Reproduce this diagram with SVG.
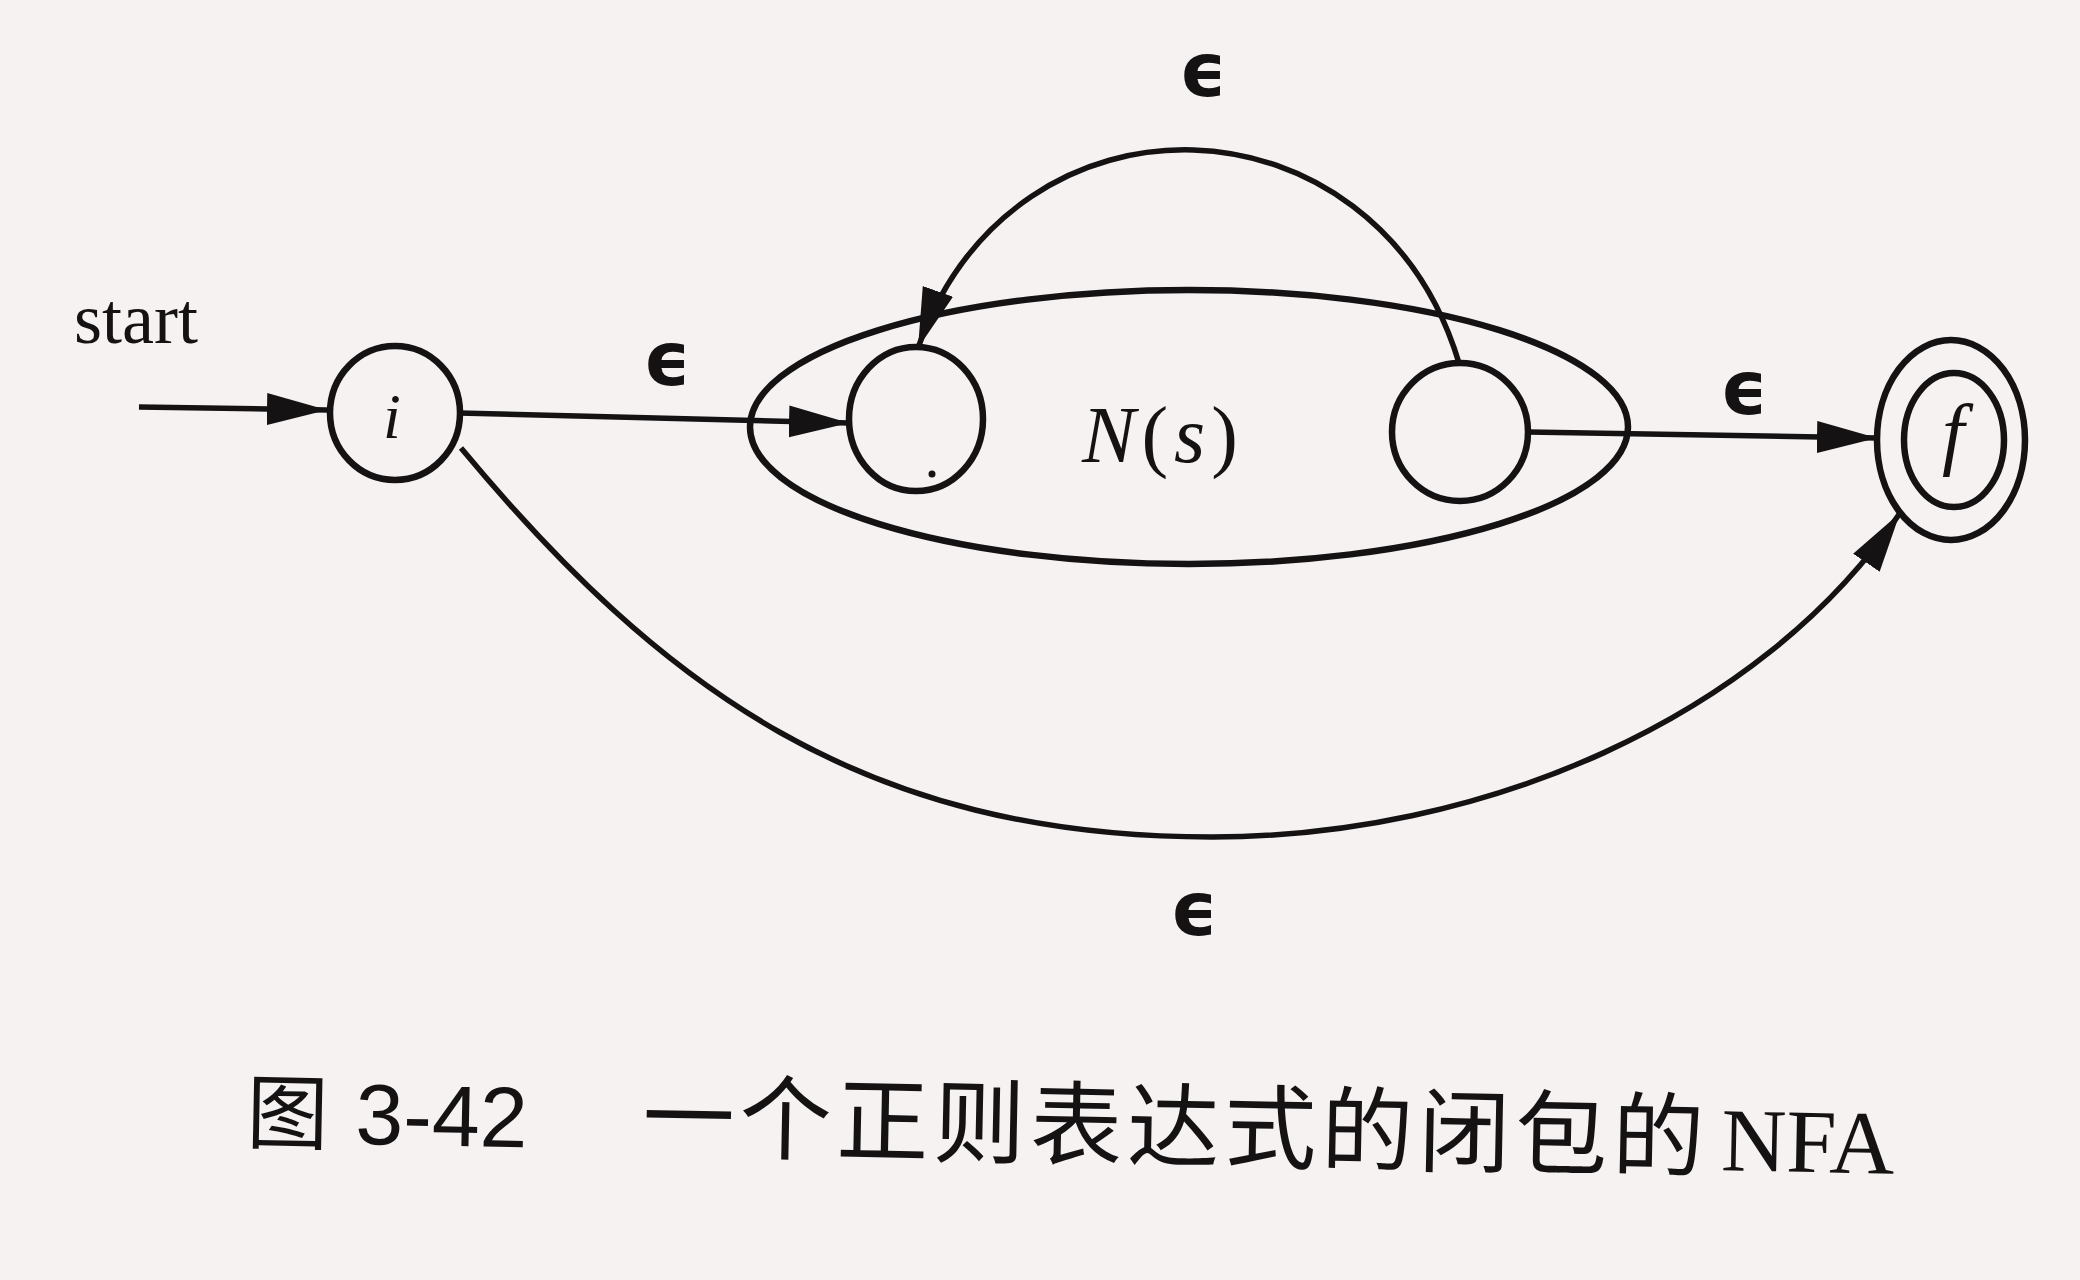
<svg xmlns="http://www.w3.org/2000/svg" width="2080" height="1280" viewBox="0 0 2080 1280">
<defs>
<style>
.st{fill:none;stroke:#141212;stroke-width:6.5}
.ed{fill:none;stroke:#141212;stroke-width:5.5}
.eps{font-family:"DejaVu Sans",sans-serif;font-weight:bold;font-size:74px;fill:#141212;text-anchor:middle}
.lbl{font-family:"Liberation Serif",serif;font-style:italic;fill:#141212;text-anchor:middle}
</style>
<marker id="ah" markerUnits="userSpaceOnUse" markerWidth="62" markerHeight="34" refX="60" refY="16" orient="auto">
<path d="M0,0 L60,16 L0,32 Z" fill="#141212"/>
</marker>
</defs>
<rect x="0" y="0" width="2080" height="1280" fill="#f7f2f2"/>
<g id="connectors">
<path class="ed" d="M139,407 L327,410" marker-end="url(#ah)"/>
<path class="ed" d="M459,413 L849,423" marker-end="url(#ah)"/>
<path class="ed" d="M1528,432 L1877,438" marker-end="url(#ah)"/>
<path class="ed" d="M1459,363 C1376,88 1014,75 918,348" marker-end="url(#ah)"/>
<path class="ed" d="M461,448 C661,688 862,837 1212,837 C1480,837 1760,720 1900,513" marker-end="url(#ah)"/>
<text class="eps" x="1203" y="96">ϵ</text>
<text class="eps" x="667" y="385">ϵ</text>
<text class="eps" x="1744" y="414">ϵ</text>
<text class="eps" x="1194" y="935">ϵ</text>
</g>
<g id="start-label">
<text x="74" y="343" font-family="Liberation Serif, serif" font-size="72" fill="#141212">start</text>
</g>
<g id="state-i">
<ellipse class="st" cx="395" cy="413" rx="65" ry="67"/>
<text class="lbl" x="392" y="438" font-size="64">i</text>
</g>
<g id="N-s">
<ellipse class="st" cx="1189" cy="427" rx="439" ry="137"/>
<text class="lbl" x="1163" y="462" font-size="80" letter-spacing="6"><tspan>N</tspan><tspan font-style="normal">(</tspan><tspan>s</tspan><tspan font-style="normal">)</tspan></text>
</g>
<g id="state-s1">
<ellipse class="st" cx="916" cy="419" rx="67" ry="72"/>
<circle cx="932" cy="474" r="3.5" fill="#141212"/>
</g>
<g id="state-s2">
<ellipse class="st" cx="1460" cy="432" rx="68" ry="69"/>
</g>
<g id="state-f">
<ellipse class="st" cx="1951" cy="440" rx="74" ry="100"/>
<ellipse class="st" cx="1954" cy="440" rx="50" ry="67"/>
<text class="lbl" x="1953" y="460" font-size="80">f</text>
</g>
<g id="caption">
<text transform="rotate(1.1 246 1142)" y="1142" fill="#141212">
<tspan x="246" font-family="Noto Sans CJK SC, sans-serif" font-size="82">图</tspan>
<tspan x="355" font-family="Liberation Sans, sans-serif" font-size="86">3-42</tspan>
<tspan x="642" font-family="Noto Sans CJK SC, sans-serif" font-size="92" letter-spacing="5">一个正则表达式的闭包的</tspan>
<tspan x="1721" font-family="Liberation Serif, serif" font-size="90">NFA</tspan>
</text>
</g>
</svg>
